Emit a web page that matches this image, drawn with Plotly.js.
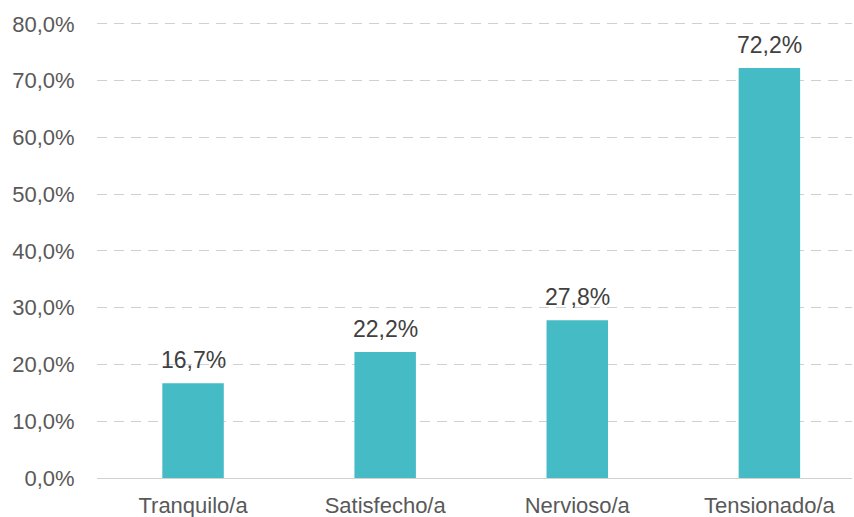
<!DOCTYPE html>
<html>
<head>
<meta charset="utf-8">
<script src="https://cdn.plot.ly/plotly-3.0.1.min.js"></script>
<style>html,body{margin:0;padding:0;background:#fff;}#chart{width:854px;height:517px;}</style>
</head>
<body>
<div id="chart"></div>
<script>
const categories = ["Tranquilo/a", "Satisfecho/a", "Nervioso/a", "Tensionado/a"];
const values = [16.7, 22.2, 27.8, 72.2];
const valueLabels = ["16,7%", "22,2%", "27,8%", "72,2%"];
const yTickVals = [0, 10, 20, 30, 40, 50, 60, 70, 80];
const yTickText = ["0,0%", "10,0%", "20,0%", "30,0%", "40,0%", "50,0%", "60,0%", "70,0%", "80,0%"];

const font = "Liberation Sans, Arial, sans-serif";
const xs = categories.map((c, i) => i);
const trace = {
  type: "bar",
  x: xs,
  y: values,
  marker: {color: "#45BBC5"},
  hoverinfo: "none"
};
const annotations = values.map((v, i) => ({
  x: xs[i], y: v, xref: "x", yref: "y",
  text: valueLabels[i], showarrow: false,
  yanchor: "bottom", xanchor: "center", yshift: 8,
  font: {family: font, size: 23, color: "#404040"}
}));
const layout = {
  width: 854, height: 517,
  margin: {l: 97, r: 2, t: 21, b: 39},
  paper_bgcolor: "#fff", plot_bgcolor: "#fff",
  bargap: 0.68,
  showlegend: false,
  font: {family: font, color: "#595959", size: 22},
  annotations: annotations,
  xaxis: {
    range: [-0.5, 3.43],
    tickvals: xs,
    ticktext: categories,
    showgrid: false, zeroline: false,
    showline: true, linecolor: "#d0d0d0", linewidth: 1,
    ticks: "outside", ticklen: 8, tickcolor: "rgba(0,0,0,0)",
    tickfont: {family: font, size: 22, color: "#595959"}
  },
  yaxis: {
    range: [0, 80.5],
    tickvals: yTickVals,
    ticktext: yTickText,
    showgrid: true, gridcolor: "#d0d0d0", griddash: "10px,7px", gridwidth: 1,
    zeroline: false, showline: false,
    ticks: "outside", ticklen: 17, tickcolor: "rgba(0,0,0,0)",
    tickfont: {family: font, size: 22, color: "#595959"}
  }
};
Plotly.newPlot("chart", [trace], layout, {displayModeBar: false, staticPlot: true});
</script>
</body>
</html>
